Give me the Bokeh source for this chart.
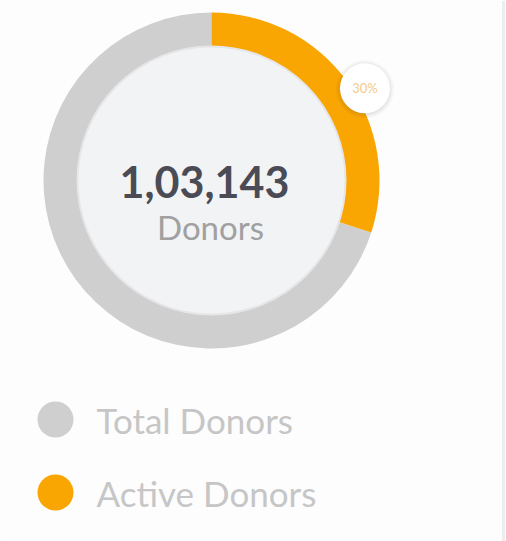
import math
from bokeh.plotting import figure
from bokeh.models import Range1d
from bokeh.core.properties import value
from bokeh.embed import file_html
from bokeh.resources import INLINE

# ---- data ----
categories = ["Total Donors", "Active Donors"]
percentages = [70, 30]
colors = ["#cfcfcf", "#f9a602"]
total_donors_label = "1,03,143"
center_caption = "Donors"
active_label = "30%"

W, H = 506, 541
p = figure(width=W, height=H, output_backend="svg", toolbar_location=None,
           x_range=Range1d(0, W), y_range=Range1d(0, H), min_border=0)
p.axis.visible = False
p.grid.visible = False
p.outline_line_color = None
p.background_fill_color = "#fdfdfd"
p.border_fill_color = "#fdfdfd"

cx, cy = 211, H - 180
r_out, r_in = 168, 134

# donut: active starts at top, clockwise
active_frac = percentages[1] / sum(percentages)
start = math.pi / 2
a_end = start - active_frac * 2 * math.pi
p.annular_wedge(x=[cx], y=[cy], inner_radius=r_in, outer_radius=r_out,
                start_angle=[start], end_angle=[a_end + 2 * math.pi],
                fill_color=colors[0], line_color=None)
p.annular_wedge(x=[cx], y=[cy], inner_radius=r_in, outer_radius=r_out,
                start_angle=[a_end], end_angle=[start],
                fill_color=colors[1], line_color=None)

# inner disc
p.circle(x=[cx], y=[cy], radius=r_in, fill_color="#f2f3f5", line_color="#e6e6e8",
         line_width=2)

# centre text
p.text(x=[cx - 7], y=[cy - 1], text=[total_donors_label], text_font=value("Lato"),
       text_font_style="bold", text_font_size="43px", text_color="#4b4b55",
       text_align="center", text_baseline="middle")
p.text(x=[cx - 1], y=[cy - 46], text=[center_caption], text_font=value("Lato"),
       text_font_size="33px", text_color="#a0a0a0",
       text_align="center", text_baseline="middle")

# percentage bubble
la = math.radians(31)
lx, ly = cx + 179 * math.cos(la), cy + 179 * math.sin(la)
for i, a in enumerate([0.05, 0.04, 0.03]):
    p.circle(x=[lx], y=[ly - 1], radius=25 + 2 * i, fill_color="#000000",
             fill_alpha=a, line_color=None)
p.circle(x=[lx], y=[ly], radius=25, fill_color="#ffffff", line_color=None)
p.text(x=[lx], y=[ly], text=[active_label], text_font=value("Lato"),
       text_font_size="13px", text_color="#f3c98a",
       text_align="center", text_baseline="middle")

# legend
leg_y = [H - 419, H - 492]
p.circle(x=[55, 55], y=leg_y, radius=18, fill_color=colors, line_color=None)
p.text(x=[96, 96], y=leg_y, text=categories, text_font=value("Lato"),
       text_font_size="35px", text_color="#c6c6c6",
       text_align="left", text_baseline="middle")

# right edge card border
p.segment(x0=[503], y0=[0], x1=[503], y1=[H], line_color="#ededed", line_width=3)

open("out.html", "w").write(file_html(p, INLINE))
